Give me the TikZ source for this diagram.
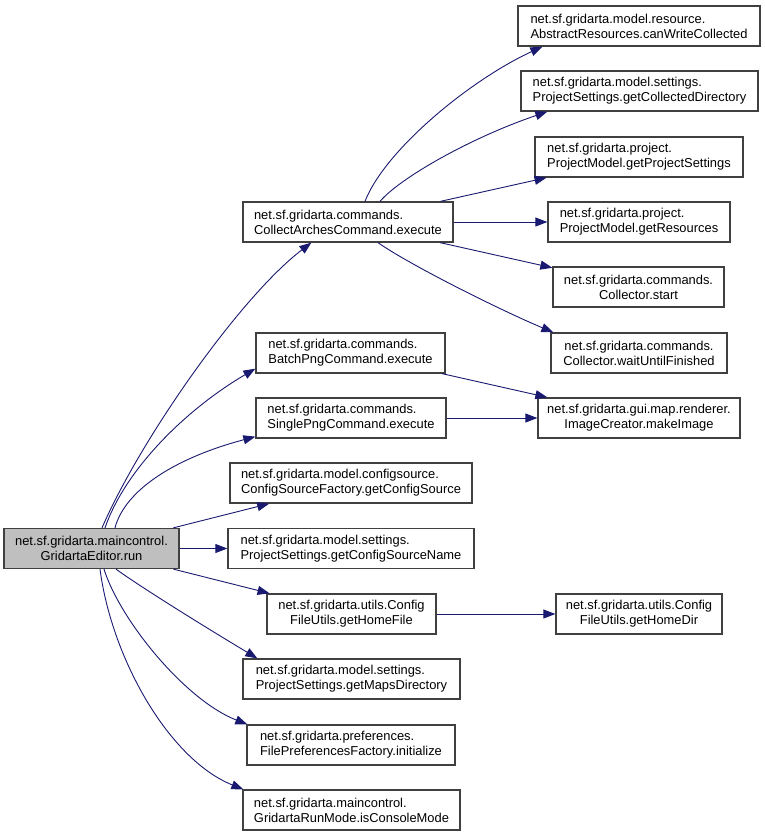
\documentclass[tikz,border=0pt]{standalone}
\usepackage{fontspec}
\setmainfont{Liberation Sans}
\usepackage{tikz}
\usetikzlibrary{arrows.meta}
\definecolor{cagriMavi}{HTML}{191970}
\definecolor{kokGri}{HTML}{BFBFBF}
\definecolor{kutuKenar}{HTML}{404040}

\begin{document}
\begin{tikzpicture}[x=1pt,y=-1pt,
  fn/.style={draw=kutuKenar,line width=1.3pt,fill=white,inner sep=0pt,
    minimum height=40pt,font=\fontsize{12.9}{15}\selectfont,align=left},
  fnc/.style={fn,align=center},
  root/.style={fnc,fill=kokGri},
  call/.style={draw=cagriMavi,line width=0.9pt,-{Triangle[length=12pt,width=9pt]}}]
\useasboundingbox (0,0) rectangle (765,836);
% kok dugum
\node[root,minimum width=175pt] (run) at (91.5,548.5) {net.sf.gridarta.maincontrol.\\GridartaEditor.run};
% orta sutun
\node[fn,minimum width=210pt] (collect) at (348,222) {net.sf.gridarta.commands.\\CollectArchesCommand.execute};
\node[fn,minimum width=189pt] (batch) at (350.5,353) {net.sf.gridarta.commands.\\BatchPngCommand.execute};
\node[fn,minimum width=190pt] (single) at (351,418) {net.sf.gridarta.commands.\\SinglePngCommand.execute};
\node[fn,minimum width=242pt] (cfgSrc) at (351,483) {net.sf.gridarta.model.configsource.\\ConfigSourceFactory.getConfigSource};
\node[fn,minimum width=246pt] (cfgName) at (351,548.5) {net.sf.gridarta.model.settings.\\ProjectSettings.getConfigSourceName};
\node[fnc,minimum width=169pt] (homeFile) at (351.5,614) {net.sf.gridarta.utils.Config\\FileUtils.getHomeFile};
\node[fn,minimum width=217pt] (maps) at (351.5,679) {net.sf.gridarta.model.settings.\\ProjectSettings.getMapsDirectory};
\node[fn,minimum width=208pt] (prefs) at (351,745) {net.sf.gridarta.preferences.\\FilePreferencesFactory.initialize};
\node[fn,minimum width=217pt] (runMode) at (351.5,810) {net.sf.gridarta.maincontrol.\\GridartaRunMode.isConsoleMode};
% sag sutun
\node[fn,minimum width=242pt] (canWrite) at (639,26) {net.sf.gridarta.model.resource.\\AbstractResources.canWriteCollected};
\node[fn,minimum width=237pt] (collDir) at (639.5,91) {net.sf.gridarta.model.settings.\\ProjectSettings.getCollectedDirectory};
\node[fn,minimum width=208pt] (projSet) at (639,157) {net.sf.gridarta.project.\\ProjectModel.getProjectSettings};
\node[fn,minimum width=182pt] (res) at (639,222) {net.sf.gridarta.project.\\ProjectModel.getResources};
\node[fnc,minimum width=171pt] (start) at (638.5,287) {net.sf.gridarta.commands.\\Collector.start};
\node[fnc,minimum width=176pt] (wait) at (639,353) {net.sf.gridarta.commands.\\Collector.waitUntilFinished};
\node[fnc,minimum width=202pt] (makeImg) at (639,418) {net.sf.gridarta.gui.map.renderer.\\ImageCreator.makeImage};
\node[fnc,minimum width=166pt] (homeDir) at (639,614) {net.sf.gridarta.utils.Config\\FileUtils.getHomeDir};
% kokten cagrilar
\draw[call] ([xshift=10.5pt]run.north) .. controls (140,440) and (240,297) .. ([xshift=69pt]collect.south west);
\draw[call] ([xshift=13.5pt]run.north) .. controls (125,470) and (185,410) .. ([yshift=5pt]batch.south west);
\draw[call] ([xshift=23.5pt]run.north) .. controls (125,490) and (175,458) .. ([yshift=2pt]single.south west);
\draw[call] (run) -- (cfgSrc);
\draw[call] (run) -- (cfgName);
\draw[call] (run) -- (homeFile);
\draw[call] ([xshift=24.5pt]run.south) .. controls (145,590) and (215,633) .. ([xshift=15pt]maps.north west);
\draw[call] ([xshift=12.5pt]run.south) .. controls (120,620) and (185,700) .. ([xshift=1pt]prefs.north west);
\draw[call] ([xshift=8.5pt]run.south) .. controls (112,660) and (170,760) .. ([xshift=1pt]runMode.north west);
% alt cagrilar
\draw[call] ([xshift=17pt]collect.north) .. controls (385,150) and (470,80) .. ([xshift=25pt]canWrite.south west);
\draw[call] ([xshift=32pt]collect.north) .. controls (400,178) and (470,138) .. ([xshift=27pt]collDir.south west);
\draw[call] (collect) -- (projSet);
\draw[call] (collect) -- (res);
\draw[call] (collect) -- (start);
\draw[call] ([xshift=30pt]collect.south) .. controls (410,265) and (500,310) .. ([xshift=3pt]wait.north west);
\draw[call] (batch) -- (makeImg);
\draw[call] (single) -- (makeImg);
\draw[call] (homeFile) -- (homeDir);
\end{tikzpicture}
\end{document}
